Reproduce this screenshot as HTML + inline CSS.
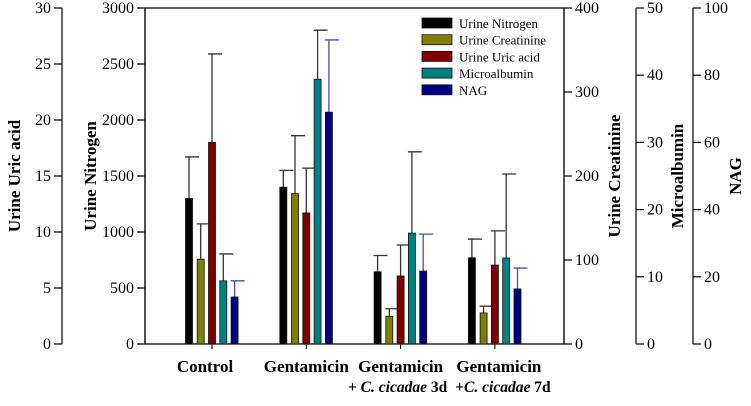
<!DOCTYPE html>
<html><head><meta charset="utf-8"><style>
body{margin:0;background:#fff;width:751px;height:401px;overflow:hidden}
svg, svg text{font-family:'Liberation Serif','DejaVu Serif','Noto Serif CJK SC',serif}
</style></head><body>
<svg id="c" width="751" height="401"></svg>
<script>
const categories=["Control","Gentamicin","Gentamicin 3d","Gentamicin 7d"];
const seriesNames=["Urine Nitrogen","Urine Creatinine","Urine Uric acid","Microalbumin","NAG"];
const nitrogen=[1300,1400,645,770];
const nitrogenErr=[1670,1550,790,937];
const creatinine=[101,179,33,37];
const creatinineErr=[143,248,42,45];
const uric=[18.0,11.7,6.07,7.05];
const uricErr=[25.9,15.7,8.84,10.1];
const micro=[9.4,39.4,16.5,12.8];
const microErr=[13.4,46.7,28.6,25.3];
const nag=[14,69,21.7,16.4];
const nagErr=[18.8,90.5,32.7,22.6];
const uricTicks=[0,5,10,15,20,25,30];
const nitroTicks=[0,500,1000,1500,2000,2500,3000];
const creatTicks=[0,100,200,300,400];
const microTicks=[0,10,20,30,40,50];
const nagTicks=[0,20,40,60,80,100];

const NS="http://www.w3.org/2000/svg";
const svg=document.getElementById('c');
const top0=8,bot=344,L=145,R=564;
function yS(max){return v=>bot-v/max*(bot-top0);}
function xC(i){return 212+i*94.3;}
function el(t,a,p){const e=document.createElementNS(NS,t);for(const k in a)e.setAttribute(k,a[k]);(p||svg).appendChild(e);return e;}
function txt(s,a){const e=el('text',a);e.textContent=s;return e;}

let f=el('path',{d:`M${L},${bot}V${top0}H${R}V${bot}H${L}`,fill:'none',stroke:'#000','stroke-width':1.2});


function axis(x,ticks,max,side,name,title,tx){
  const g=el('g',{});
  
  
  const y=yS(max);
  el('line',{x1:x,x2:x,y1:top0,y2:bot,stroke:'#000','stroke-width':1.2},g);
  ticks.forEach(t=>{
    const yy=y(t);
    el('line',{x1:x,x2:x+side*8,y1:yy,y2:yy,stroke:'#000','stroke-width':1.2},g);
    const s=el('text',{x:side<0?x-11:x+11,y:yy+5,'font-size':16,'text-anchor':side<0?'end':'start'},g);
    s.textContent=t;
  });
  const tt=el('text',{transform:`translate(${tx},${(top0+bot)/2}) rotate(-90)`,'font-size':17,'font-weight':'bold','text-anchor':'middle'},g);
  tt.textContent=title;
  
  
}
axis(62,uricTicks,30,-1,'uric-acid-axis','Urine Uric acid',20);
axis(L,nitroTicks,3000,-1,'nitrogen-axis','Urine Nitrogen',96);
axis(R,creatTicks,400,1,'creatinine-axis','Urine Creatinine',620);
axis(636,microTicks,50,1,'microalbumin-axis','Microalbumin',683);
axis(693,nagTicks,100,1,'nag-axis','NAG',741);

categories.forEach((c,i)=>{const t=el('line',{x1:xC(i),x2:xC(i),y1:bot,y2:bot+5,stroke:'#000'});
});

const series=[[nitrogen,nitrogenErr,3000,'#000000','#333'],[creatinine,creatinineErr,400,'#808000','#333'],[uric,uricErr,30,'#800000','#333'],[micro,microErr,50,'#008080','#333'],[nag,nagErr,100,'#000080','#4a4ac0']];
const offs=[-23,-11.3,0,11.3,22.6];
series.forEach((s,si)=>{
  const y=yS(s[2]);
  categories.forEach((c,i)=>{
    const cx=xC(i)+offs[si];
    const v=y(s[0][i]),e=y(s[1][i]);
    const eb=el('path',{d:`M${cx},${v}V${e}M${cx-4},${e}H${cx+10}`,stroke:s[4],'stroke-width':1.3,fill:'none'});
    
    const b=el('rect',{x:cx-3.5,y:v,width:7,height:bot-v,fill:s[3],stroke:'#111','stroke-width':0.8});
    
  });
});

const lab=[["Control",""],["Gentamicin",""],["Gentamicin","+ C. cicadae 3d"],["Gentamicin","+C. cicadae 7d"]];
const labShift=[-7,0,0,4];
lab.forEach((l,i)=>{
  const t=txt(l[0],{x:xC(i)+labShift[i],y:372,'font-size':17,'font-weight':'bold','text-anchor':'middle'});
  
  if(l[1]){
    const t2=el('text',{x:xC(i)+(i==2?-3:8),y:392,'font-size':15.5,'font-weight':'bold','text-anchor':'middle'});
    t2.innerHTML=(i==2?'+ ':'+')+'<tspan font-style="italic">C. cicadae</tspan> '+(i==2?'3d':'7d');
    
  }
});

seriesNames.forEach((n,i)=>{
  const y=18+i*16.7;
  const r=el('rect',{x:422,y:y,width:30,height:10,fill:series[i][3],stroke:'#111','stroke-width':0.8});
  
  const t=txt(n,{x:459,y:y+10,'font-size':13});
  
});
</script>
</body></html>
